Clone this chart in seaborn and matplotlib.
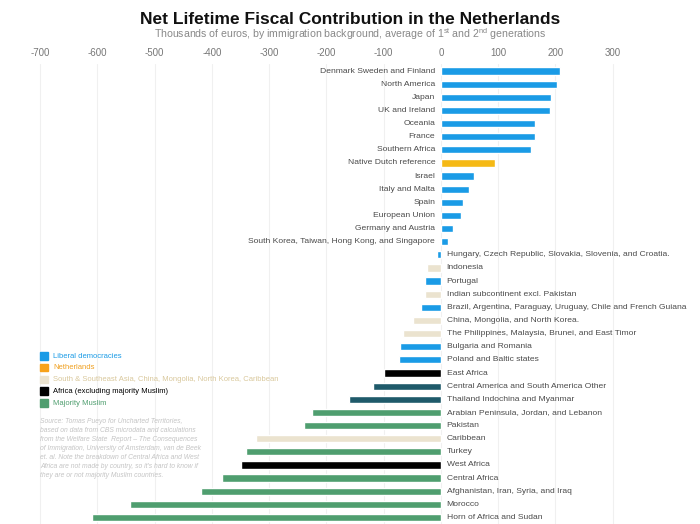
import numpy as np
import pandas as pd
import matplotlib
matplotlib.use("Agg")
import matplotlib.pyplot as plt
import seaborn as sns

regions = [
    "Denmark Sweden and Finland", "North America", "Japan", "UK and Ireland",
    "Oceania", "France", "Southern Africa", "Native Dutch reference", "Israel",
    "Italy and Malta", "Spain", "European Union", "Germany and Austria",
    "South Korea, Taiwan, Hong Kong, and Singapore",
    "Hungary, Czech Republic, Slovakia, Slovenia, and Croatia.", "Indonesia",
    "Portugal", "Indian subcontinent excl. Pakistan",
    "Brazil, Argentina, Paraguay, Uruguay, Chile and French Guiana",
    "China, Mongolia, and North Korea.",
    "The Philippines, Malaysia, Brunei, and East Timor", "Bulgaria and Romania",
    "Poland and Baltic states", "East Africa",
    "Central America and South America Other", "Thailand Indochina and Myanmar",
    "Arabian Peninsula, Jordan, and Lebanon", "Pakistan", "Caribbean", "Turkey",
    "West Africa", "Central Africa", "Afghanistan, Iran, Syria, and Iraq",
    "Morocco", "Horn of Africa and Sudan",
]
values = [
    208, 202, 193, 190, 165, 164, 157, 94, 57, 49, 38, 35, 22, 13,
    -6, -25, -28, -28, -35, -48, -67, -72, -73, -99, -118, -160,
    -225, -239, -323, -341, -349, -383, -419, -543, -610,
]
groups = [
    "lib", "lib", "lib", "lib", "lib", "lib", "lib", "nl", "lib", "lib", "lib",
    "lib", "lib", "lib", "lib", "asia", "lib", "asia", "lib", "asia", "asia",
    "lib", "lib", "africa", "latam", "latam", "muslim", "muslim", "asia",
    "muslim", "africa", "muslim", "muslim", "muslim", "muslim",
]
ticks = [-700, -600, -500, -400, -300, -200, -100, 0, 100, 200, 300]

legend_labels = [
    "Liberal democracies", "Netherlands",
    "South & Southeast Asia, China, Mongolia, North Korea, Caribbean",
    "Africa (excluding majority Muslim)", "Majority Muslim",
]
legend_boxes = ["#1a9be6", "#f7a21b", "#ebe3cf", "#000000", "#4f9e6f"]
legend_text = ["#1a9be6", "#f0a020", "#d9c89c", "#000000", "#4f9e6f"]

palette = {"lib": "#1a9be6", "nl": "#f5b915", "asia": "#ebe3cf",
           "africa": "#000000", "latam": "#1f5a6a", "muslim": "#4f9e6f"}

df = pd.DataFrame({"region": regions, "value": values, "group": groups})

sns.set_style("white")
plt.rcParams["font.family"] = ["Liberation Sans", "DejaVu Sans"]
plt.rcParams["mathtext.fontset"] = "custom"
plt.rcParams["mathtext.rm"] = "Liberation Sans"

fig = plt.figure(figsize=(7, 5.24), dpi=100)
ax = fig.add_axes([0.008, 0.0, 0.99, 0.877])

sns.barplot(data=df, x="value", y="region", hue="group", palette=palette,
            dodge=False, legend=False, width=0.55, saturation=1, ax=ax, zorder=3)

ax.set_xlim(-760, 450)
ax.set_ylim(len(regions) - 0.5, -0.5)
ax.set_xticks(ticks)
ax.set_xticklabels([str(t) for t in ticks])
ax.xaxis.tick_top()
ax.tick_params(axis="x", length=0, pad=5, labelsize=7, labelcolor="#777777")
ax.set_yticks([])
ax.set_xlabel("")
ax.set_ylabel("")
for s in ax.spines.values():
    s.set_visible(False)
ax.grid(axis="x", color="#f0f0f0", linewidth=0.8, zorder=0)
ax.set_axisbelow(True)

for i, (r, v) in enumerate(zip(regions, values)):
    if v > 0:
        ax.text(-10, i, r, ha="right", va="center", fontsize=6.1, color="#4a4a4a")
    else:
        ax.text(10, i, r, ha="left", va="center", fontsize=6.1, color="#4a4a4a")

fig.text(0.5, 0.963, "Net Lifetime Fiscal Contribution in the Netherlands",
         ha="center", va="center", fontsize=12.5, fontweight="bold", color="#111111")
fig.text(0.5, 0.935,
         r"Thousands of euros, by immigration background, average of 1$^{\rm st}$ and 2$^{\rm nd}$ generations",
         ha="center", va="center", fontsize=7.6, color="#888888")

for k, (lab, bc, tc) in enumerate(zip(legend_labels, legend_boxes, legend_text)):
    y = 1 - (356 + k * 11.8) / 524
    fig.patches.append(plt.Rectangle((40 / 700, y - 3.5 / 524), 7.5 / 700, 7.5 / 524,
                                     transform=fig.transFigure, color=bc))
    fig.text(53 / 700, y, lab, ha="left", va="center", fontsize=5.5, color=tc)

source = ("Source: Tomas Pueyo for Uncharted Territories,\n"
          "based on data from CBS microdata and calculations\n"
          "from the Welfare State  Report \u2013 The Consequences\n"
          "of Immigration, University of Amsterdam, van de Beek\n"
          "et. al. Note the breakdown of Central Africa and West\n"
          "Africa are not made by country, so it's hard to know if\n"
          "they are or not majority Muslim countries.")
fig.text(40 / 700, 1 - 418 / 524, source, ha="left", va="top", fontsize=4.85,
         style="italic", color="#c4c4c4", linespacing=1.4)

fig.savefig("out.png", dpi=100)
